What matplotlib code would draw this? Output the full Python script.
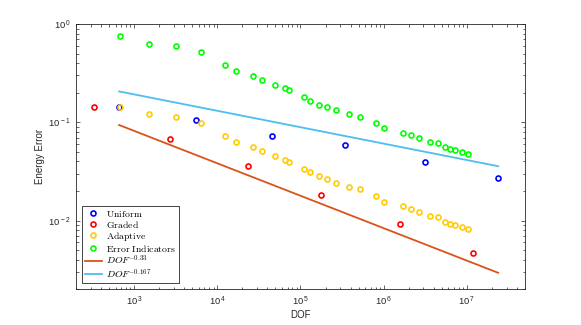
import matplotlib
matplotlib.use("Agg")
import matplotlib.pyplot as plt
from matplotlib.ticker import FuncFormatter
import numpy as np

plt.rcParams['font.family'] = ['Liberation Sans', 'DejaVu Sans']
plt.rcParams['mathtext.fontset'] = 'cm'

# data
dof_uniform = [650, 5500, 45700, 347000, 3.16e6, 2.38e7]
err_uniform = [0.1445, 0.1055, 0.0731, 0.0582, 0.0397, 0.0270]

dof_graded = [326, 2735, 23200, 174000, 1.56e6, 1.2e7]
err_graded = [0.1422, 0.0676, 0.0362, 0.0181, 0.00916, 0.00468]

dof_adaptive = [668, 1500, 3230, 6370, 12370, 16630, 26840, 34780, 49800, 64400,
                72600, 109900, 128500, 167200, 205700, 263800, 381000, 522000, 804000, 1.0e6,
                1.695e6, 2.14e6, 2.64e6, 3.65e6, 4.46e6, 5.41e6, 6.34e6, 7.28e6, 8.66e6, 1.02e7]
err_adaptive = [0.1446, 0.1216, 0.1143, 0.0984, 0.0731, 0.0635, 0.0560, 0.0506, 0.0457, 0.0417,
                0.0397, 0.0336, 0.0310, 0.0283, 0.0265, 0.0244, 0.0222, 0.0209, 0.0179, 0.0156,
                0.0140, 0.0130, 0.0123, 0.0112, 0.0109, 0.00977, 0.00917, 0.00904, 0.00855, 0.00818]
err_indicators = [0.749, 0.630, 0.592, 0.514, 0.379, 0.331, 0.294, 0.267, 0.242, 0.221,
                  0.211, 0.179, 0.166, 0.151, 0.142, 0.1325, 0.1207, 0.1143, 0.0977, 0.0868,
                  0.0785, 0.0737, 0.0691, 0.0630, 0.0621, 0.0565, 0.0534, 0.0527, 0.0502, 0.0480]

# reference slopes
dof_ref = np.array([660, 2.38e7])
rate1, c1 = -0.33, 0.80
rate2, c2 = -0.167, 0.61

fig = plt.figure(figsize=(5.81, 3.25), dpi=100)
ax = fig.add_axes([0.1308, 0.1098, 0.9036 - 0.1308, 0.926 - 0.1098])

mk = dict(linestyle='none', marker='o', markersize=3.6, markeredgewidth=1.2,
          markerfacecolor='none')
ax.plot(dof_uniform, err_uniform, markeredgecolor='#0000ff', label=r'$\mathrm{Uniform}$', **mk)
ax.plot(dof_graded, err_graded, markeredgecolor='#ff0000', label=r'$\mathrm{Graded}$', **mk)
ax.plot(dof_adaptive, err_adaptive, markeredgecolor='#ffcc00', label=r'$\mathrm{Adaptive}$', **mk)
ax.plot(dof_adaptive, err_indicators, markeredgecolor='#00ff00',
        label=r'$\mathrm{Error\ Indicators}$', **mk)
ax.plot(dof_ref, c1 * dof_ref ** rate1, color='#D95319', lw=1.3, label=r'$DOF^{-0.33}$')
ax.plot(dof_ref, c2 * dof_ref ** rate2, color='#4DBEEE', lw=1.3, label=r'$DOF^{-0.167}$')

ax.set_xscale('log')
ax.set_yscale('log')
ax.set_xlim(200, 5e7)
ax.set_ylim(2e-3, 1)

# matlab style "10 ^3" tick labels
def pow10(v, pos):
    e = int(round(np.log10(v)))
    return r'$\mathdefault{10^{\,%d}}$' % e

ax.xaxis.set_major_formatter(FuncFormatter(pow10))
ax.yaxis.set_major_formatter(FuncFormatter(pow10))

ax.tick_params(which='both', direction='in', top=True, right=True,
               labelsize=6.8, colors='#262626', width=0.5)
ax.tick_params(which='major', length=3)
ax.tick_params(which='minor', length=1.8)
ax.tick_params(axis='x', pad=4)
for s in ax.spines.values():
    s.set_color('#262626')
    s.set_linewidth(0.6)

ax.set_xlabel('DOF', fontsize=7, color='#262626', labelpad=1)
ax.set_ylabel('Energy Error', fontsize=7, color='#262626', labelpad=2)

leg = ax.legend(loc='lower left', fontsize=7, fancybox=False, framealpha=1,
                edgecolor='#262626', labelspacing=0.0, handlelength=1.8,
                handletextpad=0.4, borderpad=0.3, borderaxespad=0.6)
leg.get_frame().set_linewidth(0.6)

fig.savefig('out.png', dpi=100)
